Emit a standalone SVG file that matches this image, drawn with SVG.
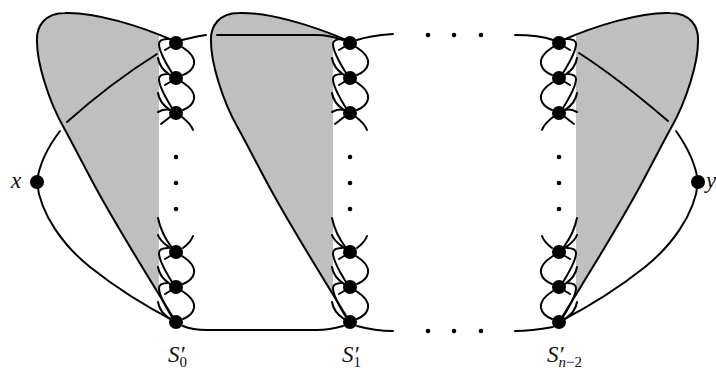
<svg xmlns="http://www.w3.org/2000/svg" width="716" height="368" viewBox="0 0 716 368">
<style>
.ln{fill:none;stroke:#000;stroke-width:2;stroke-linecap:round}
.lt{fill:none;stroke:#000;stroke-width:2}
.sh{fill:#bfbfbf;stroke:none}
.nd{fill:#000}
text{font-family:"Liberation Serif","Times New Roman",serif;font-style:italic;fill:#111}
.lb{font-size:23px}
.sb{font-size:15px;font-style:normal}
.si{font-size:15px;font-style:italic}
</style>
<defs>
<path id="shade" class="sh" d="M159,34 C128,22 92,12 65,13 C45,13 36,26 37,42 C37,62 48,100 64,128 C75,148 86,170 97,190 C120,232 140,265 159,296 Z"/>
<path id="outline" class="lt" d="M172,40 C140,26 95,12 65,13 C45,13 36,26 37,42 C37,62 48,100 64,128 C75,148 86,170 97,190 C120,232 150,280 176,322"/>
<g id="link">
<path d="M182,47 C190,52 195,58 194,64 C193,69 188,73 183,75"/>
<path d="M168,39 C163,39 159,40 159,44 C159,52 167,65 172,73"/>
<path d="M165,50 L170,47"/>
<path d="M158,58 C159,65 164,71 170,75"/>
</g>
<g id="gadget" class="ln">
<use href="#link"/>
<use href="#link" y="35"/>
<path d="M193,130 C191,124 187,121 182,117"/>
<path d="M161,124 L170,117"/>
<path d="M158,112 C162,110 166,109 170,110"/>
<path d="M193,236 C191,242 187,245 183,248"/>
<path d="M158,235 C160,241 165,244 170,248"/>
<path d="M158,218 C160,228 166,240 172,248"/>
<use href="#link" y="209"/>
<use href="#link" y="244"/>
</g>
</defs>
<g id="shading">
<use href="#shade"/>
<use href="#shade" transform="translate(174,0)"/>
<use href="#shade" transform="translate(735,0) scale(-1,1)"/>
</g>
<g id="connectors">
<use href="#outline"/>
<use href="#outline" transform="translate(174,0)"/>
<use href="#outline" transform="translate(735,0) scale(-1,1)"/>
<use href="#gadget"/>
<use href="#gadget" transform="translate(174,0)"/>
<use href="#gadget" transform="translate(735,0) scale(-1,1)"/>
<path class="ln" d="M182,40 C190,38 198,36 206,35"/>
<path class="ln" d="M217,35 L317,35 C327,35 334,37 343,40"/>
<path class="ln" d="M357,40 C368,36 380,35 393,34"/>
<path class="ln" d="M515,35 C528,35 542,36 553,40"/>
<path class="ln" d="M183,326 C190,329 197,330 207,330 L317,330 C327,330 336,328 343,326"/>
<path class="ln" d="M357,326 C368,329 380,331 393,331"/>
<path class="ln" d="M515,331 C528,331 542,329 553,327"/>
<path class="ln" d="M37,182 C39,165 47,148 60,131"/>
<path class="ln" d="M67,122 C95,97 125,74 157,54"/>
<path class="ln" d="M37,182 C40,215 65,247 90,267 C115,287 145,306 176,322"/>
<path class="ln" d="M698,182 C696,165 688,148 676,131"/>
<path class="ln" d="M668,121 C640,97 610,73 579,53"/>
<path class="ln" d="M698,182 C695,215 670,247 645,267 C620,287 590,306 559,322"/>
</g>
<g id="node-x"><circle class="nd" cx="37" cy="182" r="7"/><text class="lb" x="11" y="188">x</text></g>
<g id="node-y"><circle class="nd" cx="698" cy="182" r="7"/><text class="lb" x="706" y="188">y</text></g>
<g id="S0">
<circle class="nd" cx="176" cy="43" r="7"/><circle class="nd" cx="176" cy="78" r="7"/><circle class="nd" cx="176" cy="113" r="7"/>
<circle class="nd" cx="176" cy="157" r="2.3"/><circle class="nd" cx="176" cy="183" r="2.3"/><circle class="nd" cx="176" cy="209" r="2.3"/>
<circle class="nd" cx="176" cy="252" r="7"/><circle class="nd" cx="176" cy="287" r="7"/><circle class="nd" cx="176" cy="322" r="7"/>
<text class="lb" x="168" y="362">S′<tspan class="sb" dx="-5" dy="5">0</tspan></text>
</g>
<g id="S1">
<circle class="nd" cx="350" cy="43" r="7"/><circle class="nd" cx="350" cy="78" r="7"/><circle class="nd" cx="350" cy="113" r="7"/>
<circle class="nd" cx="350" cy="157" r="2.3"/><circle class="nd" cx="350" cy="183" r="2.3"/><circle class="nd" cx="350" cy="209" r="2.3"/>
<circle class="nd" cx="350" cy="252" r="7"/><circle class="nd" cx="350" cy="287" r="7"/><circle class="nd" cx="350" cy="322" r="7"/>
<text class="lb" x="342" y="362">S′<tspan class="sb" dx="-5" dy="5">1</tspan></text>
</g>
<g id="S2">
<circle class="nd" cx="559" cy="43" r="7"/><circle class="nd" cx="559" cy="78" r="7"/><circle class="nd" cx="559" cy="113" r="7"/>
<circle class="nd" cx="559" cy="157" r="2.3"/><circle class="nd" cx="559" cy="183" r="2.3"/><circle class="nd" cx="559" cy="209" r="2.3"/>
<circle class="nd" cx="559" cy="252" r="7"/><circle class="nd" cx="559" cy="287" r="7"/><circle class="nd" cx="559" cy="322" r="7"/>
<text class="lb" x="547" y="362">S′<tspan class="si" dx="-5" dy="5">n</tspan><tspan class="sb">−2</tspan></text>
</g>
<g id="ellipsis">
<circle class="nd" cx="428" cy="35" r="2.3"/><circle class="nd" cx="454" cy="35" r="2.3"/><circle class="nd" cx="481" cy="35" r="2.3"/>
<circle class="nd" cx="428" cy="331" r="2.3"/><circle class="nd" cx="454" cy="331" r="2.3"/><circle class="nd" cx="481" cy="331" r="2.3"/>
</g>
</svg>
